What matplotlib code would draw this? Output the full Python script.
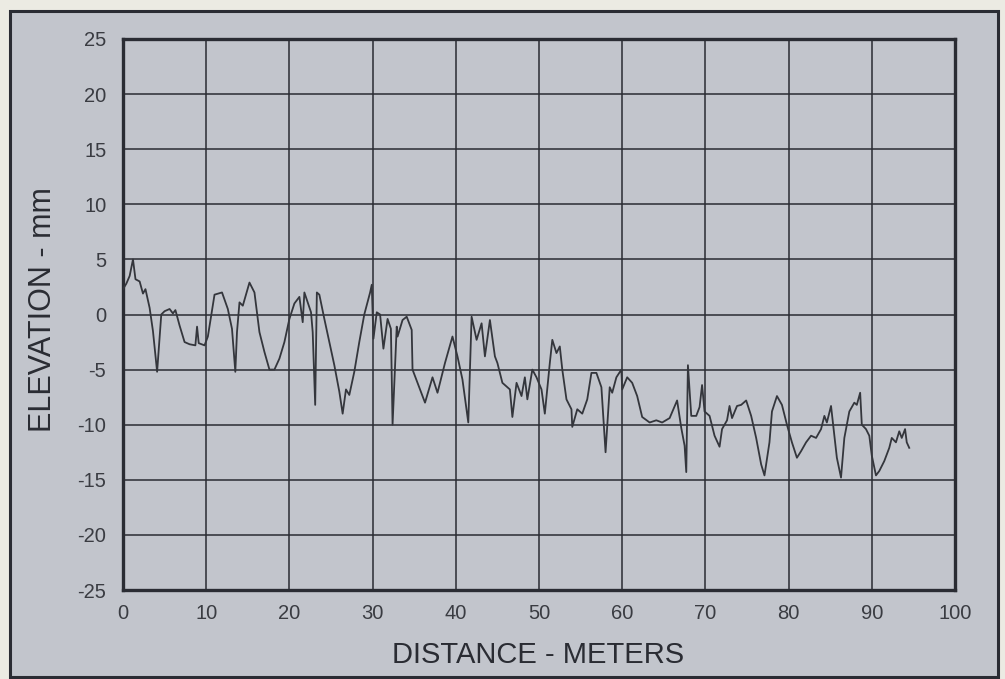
import matplotlib
matplotlib.use("Agg")
import matplotlib.pyplot as plt
from matplotlib.patches import Rectangle

distance_m = [0.0, 0.4, 0.8, 1.2, 1.5, 2.0, 2.4, 2.7, 3.2, 3.6, 4.1, 4.6, 5.0, 5.6, 6.0, 6.3, 6.8, 7.4,
              8.0, 8.7, 8.9, 9.1, 9.8, 10.2, 11.0, 11.9, 12.6, 13.1, 13.5, 13.7, 14.0, 14.4, 15.2, 15.8,
              16.4, 17.0, 17.6, 18.2, 18.8, 19.4, 20.0, 20.6, 21.2, 21.6, 21.8, 22.2, 22.6, 22.8, 23.1,
              23.3, 23.6, 24.2, 24.8, 25.4, 26.0, 26.4, 26.8, 27.2, 27.8, 28.4, 29.0, 29.7, 29.9, 30.1,
              30.5, 30.9, 31.3, 31.8, 32.2, 32.4, 32.9, 33.0, 33.6, 34.1, 34.7, 34.8, 35.7, 36.3, 37.2,
              37.8, 38.7, 39.6, 40.2, 40.8, 41.5, 41.9, 42.5, 43.1, 43.5, 44.1, 44.7, 45.0, 45.6, 46.5,
              46.8, 47.3, 47.9, 48.3, 48.6, 49.2, 49.7, 50.3, 50.7, 51.3, 51.6, 52.1, 52.5, 52.8, 53.3,
              53.9, 54.0, 54.6, 55.2, 55.8, 56.3, 56.9, 57.5, 58.0, 58.5, 58.8, 59.3, 59.9, 60.0, 60.6,
              61.2, 61.8, 62.4, 63.3, 64.1, 64.8, 65.7, 66.6, 67.1, 67.5, 67.7, 67.9, 68.3, 68.9, 69.3,
              69.6, 69.9, 70.5, 71.1, 71.7, 72.0, 72.6, 72.9, 73.2, 73.8, 74.3, 74.9, 75.5, 76.1, 76.7,
              77.1, 77.7, 78.0, 78.6, 79.2, 79.8, 80.4, 81.0, 81.5, 82.1, 82.7, 83.3, 83.9, 84.3, 84.6,
              85.1, 85.5, 85.8, 86.3, 86.7, 87.3, 87.9, 88.2, 88.6, 88.8, 89.3, 89.7, 90.0, 90.5, 90.9,
              91.5, 92.1, 92.4, 92.9, 93.3, 93.6, 94.0, 94.2, 94.5]

elevation_mm = [2.3, 2.8, 3.5, 5.0, 3.2, 3.0, 1.9, 2.3, 0.6, -1.5, -5.2, 0.0, 0.3, 0.5, 0.1, 0.4, -1.0, -2.5,
                -2.7, -2.8, -1.1, -2.6, -2.8, -2.0, 1.8, 2.0, 0.5, -1.3, -5.2, -1.6, 1.1, 0.8, 2.9, 2.0,
                -1.6, -3.4, -5.0, -5.0, -4.0, -2.5, -0.4, 1.0, 1.6, -0.7, 2.0, 1.1, 0.2, -1.6, -8.2,
                2.0, 1.8, -0.4, -2.5, -4.6, -7.0, -9.0, -6.8, -7.3, -5.2, -2.5, 0.0, 2.0, 2.7, -2.2,
                0.2, 0.0, -3.1, -0.4, -1.3, -10.0, -1.1, -2.0, -0.5, -0.2, -1.4, -5.0, -6.8, -8.0, -5.7,
                -7.1, -4.4, -2.0, -3.8, -5.9, -9.8, -0.2, -2.3, -0.8, -3.8, -0.5, -3.8, -4.4, -6.2, -6.8,
                -9.3, -6.2, -7.4, -5.7, -7.7, -5.0, -5.7, -6.8, -9.0, -4.4, -2.3, -3.5, -2.9, -5.0, -7.7,
                -8.6, -10.2, -8.6, -9.0, -7.7, -5.3, -5.3, -6.6, -12.5, -6.6, -7.1, -5.7, -5.0, -6.8, -5.7,
                -6.2, -7.4, -9.3, -9.8, -9.6, -9.8, -9.4, -7.8, -10.3, -11.9, -14.3, -4.6, -9.2, -9.2, -8.4,
                -6.4, -8.8, -9.2, -11.0, -12.0, -10.4, -9.6, -8.3, -9.4, -8.3, -8.2, -7.8, -9.2, -11.2, -13.6,
                -14.6, -11.6, -8.8, -7.4, -8.2, -10.0, -11.6, -13.0, -12.4, -11.6, -11.0, -11.2, -10.4, -9.2, -9.8,
                -8.3, -11.0, -13.0, -14.8, -11.2, -8.8, -8.0, -8.2, -7.1, -10.0, -10.4, -11.0, -12.8, -14.6, -14.2,
                -13.3, -12.1, -11.2, -11.6, -10.6, -11.2, -10.4, -11.6, -12.1]

x_ticks = [0, 10, 20, 30, 40, 50, 60, 70, 80, 90, 100]
y_ticks = [-25, -20, -15, -10, -5, 0, 5, 10, 15, 20, 25]
x_label = "DISTANCE - METERS"
y_label = "ELEVATION - mm"

plt.rcParams['font.family'] = ['Liberation Sans', 'DejaVu Sans']
plt.rcParams['axes.unicode_minus'] = False

W, H = 1005, 679
fig = plt.figure(figsize=(W / 100, H / 100), dpi=100, facecolor="#ecebe3")

panel_color = "#c2c5cc"
ink = "#2a2c33"

# outer panel (background axes so it sits beneath the plot axes)
bg = fig.add_axes([0, 0, 1, 1], zorder=-10)
bg.set_xlim(0, W)
bg.set_ylim(H, 0)
bg.axis("off")
bg.add_patch(Rectangle((10, 11), 988, 666, facecolor=panel_color,
                       edgecolor=ink, linewidth=2.2))

left, right, top, bottom = 123, 955, 39, 590
ax = fig.add_axes([left / W, 1 - bottom / H, (right - left) / W, (bottom - top) / H], zorder=1)
ax.set_facecolor(panel_color)

ax.plot(distance_m, elevation_mm, color="#34363c", linewidth=1.3, zorder=3)

ax.set_xlim(0, 100)
ax.set_ylim(-25, 25)
ax.set_xticks(x_ticks)
ax.set_yticks(y_ticks)
ax.grid(True, color=ink, linewidth=1.1, zorder=1)
ax.set_axisbelow(True)
for s in ax.spines.values():
    s.set_linewidth(2.4)
    s.set_color(ink)
ax.tick_params(length=0, labelsize=14.5, labelcolor="#3a3c42", pad=12)
ax.tick_params(axis='x', pad=10)

fig.text(538 / W, 1 - 655 / H, x_label, ha="center", va="center", fontsize=21, color=ink)
fig.text(43 / W, 1 - 310 / H, y_label, ha="center", va="center", rotation=90, fontsize=22, color=ink)

fig.savefig("out.png", dpi=100, facecolor=fig.get_facecolor())
